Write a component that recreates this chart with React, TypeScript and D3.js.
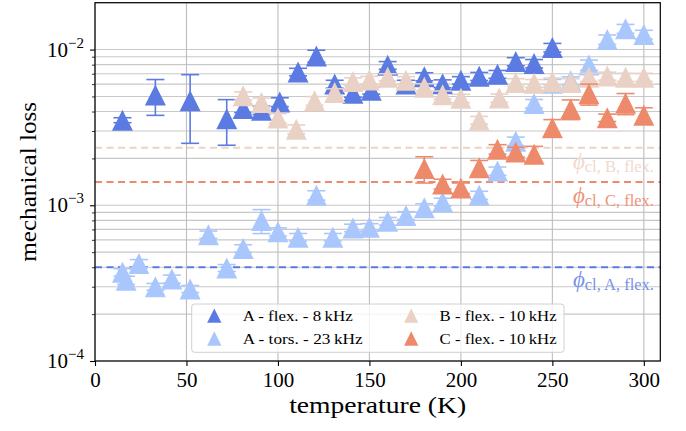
import React, { useEffect, useRef } from "react";
import * as d3 from "d3";

// A - flexural mode, 8 kHz
const aFlexTemp = [15, 33, 52, 72, 81, 91, 101, 111, 121, 131, 141, 151, 160, 170, 180, 190, 200, 210, 220, 230, 240, 250];
const aFlexLoss = [3.52e-3, 5.1e-3, 4.7e-3, 3.6e-3, 4.19e-3, 4.08e-3, 4.6e-3, 7.18e-3, 9.1e-3, 6.0e-3, 5.24e-3, 5.47e-3, 7.92e-3, 6.0e-3, 6.7e-3, 6.04e-3, 6.35e-3, 6.73e-3, 6.94e-3, 8.37e-3, 8.13e-3, 1.03e-2];
const aFlexErr = [0.13e-3, 1.32e-3, 2.2e-3, 1.17e-3, 0.25e-3, 0.25e-3, 0.3e-3, 0.4e-3, 0.8e-3, 0.35e-3, 0.3e-3, 0.3e-3, 0.45e-3, 0.35e-3, 0.4e-3, 0.35e-3, 0.35e-3, 0.4e-3, 0.4e-3, 0.5e-3, 0.5e-3, 0.65e-3];

// A - torsional mode, 23 kHz
const aTorsTemp = [15, 17, 24, 33, 42, 52, 62, 72, 81, 91, 100, 111, 121, 130, 141, 150, 160, 170, 180, 190, 210, 220, 230, 240, 250, 260, 270, 280, 290, 300];
const aTorsLoss = [3.71e-4, 3.3e-4, 4.23e-4, 3.0e-4, 3.36e-4, 2.9e-4, 6.48e-4, 3.96e-4, 5.28e-4, 7.98e-4, 6.76e-4, 6.24e-4, 1.16e-3, 6.24e-4, 7.16e-4, 7.22e-4, 7.9e-4, 8.6e-4, 9.63e-4, 1.05e-3, 1.16e-3, 1.66e-3, 2.58e-3, 4.5e-3, 6.07e-3, 6.3e-3, 7.96e-3, 1.16e-2, 1.36e-2, 1.25e-2];
const aTorsErr = [0.2e-4, 0.2e-4, 0.25e-4, 0.15e-4, 0.2e-4, 0.15e-4, 0.35e-4, 0.2e-4, 0.3e-4, 1.4e-4, 0.4e-4, 0.35e-4, 0.8e-4, 0.35e-4, 0.4e-4, 0.4e-4, 0.45e-4, 0.5e-4, 0.6e-4, 0.6e-4, 0.7e-4, 1.0e-4, 1.6e-4, 2.8e-4, 3.6e-4, 3.8e-4, 6.0e-4, 8.0e-4, 9.0e-4, 8.0e-4];

// B - flexural mode, 10 kHz
const bFlexTemp = [81, 91, 100, 110, 120, 131, 141, 150, 160, 170, 180, 190, 200, 210, 221, 230, 240, 250, 260, 270, 280, 290, 300];
const bFlexLoss = [5.05e-3, 4.58e-3, 3.63e-3, 3.08e-3, 4.69e-3, 5.3e-3, 6.24e-3, 6.38e-3, 6.64e-3, 6.35e-3, 5.73e-3, 5.12e-3, 4.86e-3, 3.52e-3, 4.88e-3, 6.15e-3, 6.07e-3, 6.22e-3, 6.15e-3, 6.64e-3, 6.76e-3, 6.64e-3, 6.64e-3];
const bFlexErr = [0.3e-3, 0.3e-3, 0.25e-3, 0.2e-3, 0.3e-3, 0.3e-3, 0.35e-3, 0.35e-3, 0.35e-3, 0.35e-3, 0.3e-3, 0.3e-3, 0.3e-3, 0.2e-3, 0.3e-3, 0.35e-3, 0.35e-3, 0.35e-3, 0.35e-3, 0.4e-3, 0.4e-3, 0.4e-3, 0.4e-3];

// C - flexural mode, 10 kHz
const cFlexTemp = [180, 190, 200, 210, 220, 230, 240, 250, 260, 270, 280, 290, 300];
const cFlexLoss = [1.72e-3, 1.37e-3, 1.29e-3, 1.74e-3, 2.29e-3, 2.2e-3, 2.13e-3, 3.15e-3, 4.15e-3, 5.2e-3, 3.65e-3, 4.52e-3, 3.78e-3];
const cFlexErr = [0.33e-3, 0.1e-3, 0.1e-3, 0.2e-3, 0.16e-3, 0.16e-3, 0.26e-3, 0.4e-3, 0.6e-3, 0.8e-3, 0.2e-3, 0.7e-3, 0.45e-3];

// coating-loss levels (dashed lines)
const phiLevels = [
  { name: "B", value: 2.34e-3, color: "#ecd3c6", text: "#efd9ce" },
  { name: "C", value: 1.41e-3, color: "#ee8a6c", text: "#f0917a" },
  { name: "A", value: 4.0e-4, color: "#5b7be3", text: "#7792e8" },
];

const xTicks = [0, 50, 100, 150, 200, 250, 300];
const yMajor = [1e-4, 1e-3, 1e-2];
const yExp = ["\u22124", "\u22123", "\u22122"];

const series = [
  { label: "A - flex. - 8\u2009kHz", temp: aFlexTemp, loss: aFlexLoss, err: aFlexErr, color: "#5b7be3", len: 110 },
  { label: "A - tors. - 23\u2009kHz", temp: aTorsTemp, loss: aTorsLoss, err: aTorsErr, color: "#aac7fd", len: 120 },
  { label: "B - flex. - 10\u2009kHz", temp: bFlexTemp, loss: bFlexLoss, err: bFlexErr, color: "#e9d2c5", len: 117 },
  { label: "C - flex. - 10\u2009kHz", temp: cFlexTemp, loss: cFlexLoss, err: cFlexErr, color: "#ee8a6c", len: 117 },
];

const FONT = "'Liberation Serif', 'DejaVu Serif', serif";

const tri = (s: number) => `M0,${-s / 2}L${-s / 2},${s / 2}L${s / 2},${s / 2}Z`;

export default function App() {
  const ref = useRef<SVGSVGElement>(null);

  useEffect(() => {
    const svg = d3.select(ref.current);
    svg.selectAll("*").remove();

    const left = 95, right = 660.3, top = 2.7, bottom = 361;
    const x = d3.scaleLinear().domain([0, 309]).range([left, right]);
    const y = d3.scaleLog().domain([1e-4, 2e-2]).range([bottom, top]);

    // minor values of the log axis
    const yMinor: number[] = [];
    [1e-4, 1e-3, 1e-2].forEach((d) => {
      for (let k = 2; k <= 9; k++) if (d * k <= 2e-2) yMinor.push(d * k);
    });

    // grid
    const grid = svg.append("g");
    grid.selectAll("line.h")
      .data([...yMajor, ...yMinor])
      .enter()
      .append("line")
      .attr("x1", left).attr("x2", right)
      .attr("y1", (d) => y(d)).attr("y2", (d) => y(d))
      .attr("stroke", "#c8c8c8").attr("stroke-width", 1.1);
    grid.selectAll("line.v")
      .data(xTicks)
      .enter()
      .append("line")
      .attr("x1", (d) => x(d)).attr("x2", (d) => x(d))
      .attr("y1", top).attr("y2", bottom)
      .attr("stroke", "#bdbdbd").attr("stroke-width", 1.1);

    // dashed loss levels
    svg.append("g")
      .selectAll("line")
      .data(phiLevels)
      .enter()
      .append("line")
      .attr("x1", left).attr("x2", right)
      .attr("y1", (d) => y(d.value)).attr("y2", (d) => y(d.value))
      .attr("stroke", (d) => d.color)
      .attr("stroke-width", 2)
      .attr("stroke-dasharray", "7,4.5");

    // labels of the levels
    const phiBase: Record<string, number> = { B: 168.5, C: 202.5, A: 286.5 };
    phiLevels.forEach((p) => {
      const t = svg.append("text")
        .attr("x", 654)
        .attr("y", phiBase[p.name])
        .attr("text-anchor", "end")
        .attr("fill", p.text)
        .style("font-family", FONT);
      t.append("tspan").attr("font-size", 23).attr("font-style", "italic").text("\u03d5");
      t.append("tspan").attr("font-size", 16.5).attr("dy", 3).text(`cl, ${p.name}, flex.`);
    });

    // series: error bars and triangles
    series.forEach((s) => {
      const g = svg.append("g");
      const pts = s.temp.map((t, i) => ({ t, v: s.loss[i], e: s.err[i] }));
      g.selectAll("line.eb")
        .data(pts)
        .enter()
        .append("line")
        .attr("x1", (d) => x(d.t)).attr("x2", (d) => x(d.t))
        .attr("y1", (d) => y(Math.max(d.v - d.e, 1e-5))).attr("y2", (d) => y(d.v + d.e))
        .attr("stroke", s.color).attr("stroke-width", 1.6);
      [1, -1].forEach((sign) => {
        g.selectAll(`line.cap${sign}`)
          .data(pts)
          .enter()
          .append("line")
          .attr("x1", (d) => x(d.t) - 9).attr("x2", (d) => x(d.t) + 9)
          .attr("y1", (d) => y(d.v + sign * d.e)).attr("y2", (d) => y(d.v + sign * d.e))
          .attr("stroke", s.color).attr("stroke-width", 1.6);
      });
      g.selectAll("path")
        .data(pts)
        .enter()
        .append("path")
        .attr("d", tri(21))
        .attr("transform", (d) => `translate(${x(d.t)},${y(d.v)})`)
        .attr("fill", s.color);
    });

    // frame
    svg.append("rect")
      .attr("x", left).attr("y", top)
      .attr("width", right - left).attr("height", bottom - top)
      .attr("fill", "none").attr("stroke", "#000").attr("stroke-width", 1.2);

    // x axis
    const xAxis = svg.append("g")
      .attr("transform", `translate(0,${bottom})`)
      .call(d3.axisBottom(x).tickValues(xTicks).tickSize(5).tickPadding(6).tickFormat(d3.format("d")));
    xAxis.select(".domain").remove();
    xAxis.selectAll("line").attr("stroke", "#000").attr("stroke-width", 1.1);
    xAxis.selectAll("text")
      .attr("fill", "#000")
      .style("font-family", FONT)
      .style("font-size", "21px");

    // y axis ticks
    const yAxis = svg.append("g")
      .attr("transform", `translate(${left},0)`)
      .call(d3.axisLeft(y).tickValues(yMajor).tickSize(5).tickFormat(() => ""));
    yAxis.select(".domain").remove();
    yAxis.selectAll("line").attr("stroke", "#000").attr("stroke-width", 1.1);
    const yAxisMinor = svg.append("g")
      .attr("transform", `translate(${left},0)`)
      .call(d3.axisLeft(y).tickValues(yMinor.filter((d) => d < 2e-2)).tickSize(3).tickFormat(() => ""));
    yAxisMinor.select(".domain").remove();
    yAxisMinor.selectAll("line").attr("stroke", "#000").attr("stroke-width", 0.8);

    // y tick labels 10^n
    yMajor.forEach((d, i) => {
      const t = svg.append("text")
        .attr("x", 84)
        .attr("y", y(d) + 7)
        .attr("text-anchor", "end")
        .attr("fill", "#000")
        .style("font-family", FONT);
      t.append("tspan").attr("font-size", 21).text("10");
      t.append("tspan").attr("font-size", 15).attr("dy", -9).text(yExp[i]);
    });

    // axis titles
    svg.append("text")
      .attr("x", (left + right) / 2)
      .attr("y", 413)
      .attr("text-anchor", "middle")
      .attr("textLength", 177)
      .attr("lengthAdjust", "spacingAndGlyphs")
      .style("font-family", FONT)
      .style("font-size", "24px")
      .text("temperature (K)");
    svg.append("text")
      .attr("transform", `translate(36,${(top + bottom) / 2}) rotate(-90)`)
      .attr("text-anchor", "middle")
      .attr("textLength", 160)
      .attr("lengthAdjust", "spacingAndGlyphs")
      .style("font-family", FONT)
      .style("font-size", "24px")
      .text("mechanical loss");

    // legend
    const lg = svg.append("g");
    lg.append("rect")
      .attr("x", 191.7).attr("y", 304)
      .attr("width", 372.3).attr("height", 48.3)
      .attr("rx", 3)
      .attr("fill", "#fff").attr("fill-opacity", 0.8)
      .attr("stroke", "#d0d0d0").attr("stroke-width", 1);
    const colX = [214.3, 411.2];
    const rowY = [315.7, 338.5];
    series.forEach((s, i) => {
      const cx = colX[Math.floor(i / 2)];
      const cy = rowY[i % 2];
      lg.append("path")
        .attr("d", tri(14.3))
        .attr("transform", `translate(${cx},${cy})`)
        .attr("fill", s.color);
      lg.append("text")
        .attr("x", cx + 28.4)
        .attr("y", cy + 5)
        .attr("textLength", s.len)
        .attr("lengthAdjust", "spacingAndGlyphs")
        .style("font-family", FONT)
        .style("font-size", "15px")
        .attr("fill", "#000")
        .text(s.label);
    });
  }, []);

  return (
    <svg
      ref={ref}
      width={686}
      height={431}
      style={{ position: "absolute", left: 0, top: 0, background: "#fff" }}
    />
  );
}
